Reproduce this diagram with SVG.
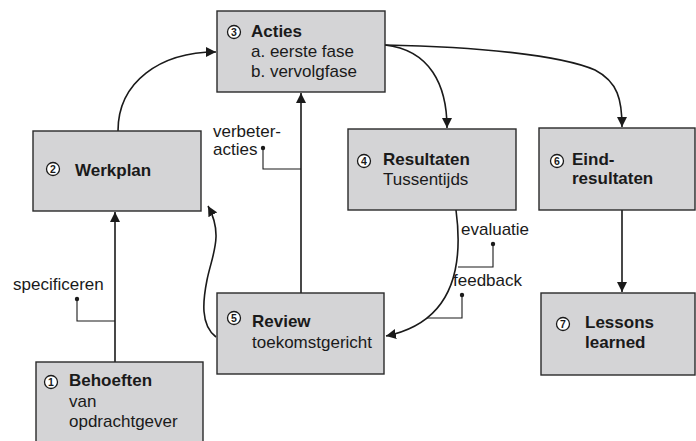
<svg xmlns="http://www.w3.org/2000/svg" width="696" height="441" viewBox="0 0 696 441">
<defs>
<marker id="ah" viewBox="0 0 10 10" refX="10" refY="5" markerWidth="10" markerHeight="10" markerUnits="userSpaceOnUse" orient="auto">
<path d="M0,0 L10,5 L0,10 Z" fill="#1a1a1a"/>
</marker>
<style>
.box{fill:#d4d4d6;stroke:#2a2a2a;stroke-width:1.4}
.t{font-family:"Liberation Sans",Arial,sans-serif;font-size:17px;fill:#1a1a1a}
.b{font-weight:bold}
.num{fill:#fff;stroke:#1a1a1a;stroke-width:1.3}
.nt{font-family:"Liberation Sans",Arial,sans-serif;font-size:10.5px;font-weight:bold;fill:#1a1a1a;text-anchor:middle}
.c{fill:none;stroke:#1a1a1a;stroke-width:1.6}
.a{marker-end:url(#ah)}
.l{fill:none;stroke:#1a1a1a;stroke-width:1.1}
.dot{fill:#1a1a1a}
</style>
</defs>
<rect width="696" height="441" fill="#fff"/>

<g id="connectors">
<path class="c a" d="M118,131 C118,82 160,52 216,52"/>
<path class="c a" d="M385,45 C430,50 447,85 447,128"/>
<path class="c a" d="M385,45 C480,47 560,55 595,70 C618,82 622,100 622,127"/>
<path class="c a" d="M622,210 L622,292"/>
<path class="c a" d="M115,362 L115,212"/>
<path class="c a" d="M301,293 L301,93"/>
<path class="c a" d="M216,337 C200,325 203,300 207,280 C212,255 224,235 208,206"/>
<path class="c a" d="M456,210 C466,285 440,325 386,336"/>
<polyline class="l" points="77,299 77,321 115,321"/>
<circle class="dot" cx="77" cy="299" r="2.2"/>
<polyline class="l" points="263,148 263,169 301,169"/>
<circle class="dot" cx="263" cy="148" r="2.2"/>
<polyline class="l" points="493,244 493,267 458,267"/>
<circle class="dot" cx="493" cy="244" r="2.2"/>
<polyline class="l" points="462,295 462,318 427,318"/>
<circle class="dot" cx="462" cy="295" r="2.2"/>
<text class="t" x="213" y="137">verbeter-</text>
<text class="t" x="213" y="155">acties</text>
<text class="t" x="13" y="290">specificeren</text>
<text class="t" x="461" y="235">evaluatie</text>
<text class="t" x="453" y="286">feedback</text>
</g>

<g id="acties">
<rect class="box" x="217" y="11" width="168" height="81"/>
<circle class="num" cx="234" cy="32" r="6.5"/><text class="nt" x="234" y="35.8">3</text>
<text class="t b" x="251" y="37">Acties</text>
<text class="t" x="251" y="57">a. eerste fase</text>
<text class="t" x="251" y="77">b. vervolgfase</text>
</g>

<g id="werkplan">
<rect class="box" x="33" y="131" width="168" height="80"/>
<circle class="num" cx="53" cy="169" r="6.5"/><text class="nt" x="53" y="172.8">2</text>
<text class="t b" x="75" y="176">Werkplan</text>
</g>

<g id="resultaten">
<rect class="box" x="348" y="129" width="168" height="81"/>
<circle class="num" cx="364" cy="161" r="6.5"/><text class="nt" x="364" y="164.8">4</text>
<text class="t b" x="383" y="165">Resultaten</text>
<text class="t" x="383" y="185">Tussentijds</text>
</g>

<g id="eindresultaten">
<rect class="box" x="539" y="128" width="156" height="82"/>
<circle class="num" cx="557" cy="161" r="6.5"/><text class="nt" x="557" y="164.8">6</text>
<text class="t b" x="572" y="165">Eind-</text>
<text class="t b" x="572" y="184">resultaten</text>
</g>

<g id="lessons">
<rect class="box" x="541" y="293" width="154" height="82"/>
<circle class="num" cx="563" cy="324" r="6.5"/><text class="nt" x="563" y="327.8">7</text>
<text class="t b" x="585" y="328">Lessons</text>
<text class="t b" x="585" y="348">learned</text>
</g>

<g id="review">
<rect class="box" x="217" y="293" width="167" height="81"/>
<circle class="num" cx="234" cy="318" r="6.5"/><text class="nt" x="234" y="321.8">5</text>
<text class="t b" x="252" y="327">Review</text>
<text class="t" x="252" y="348">toekomstgericht</text>
</g>

<g id="behoeften">
<rect class="box" x="36" y="362" width="167" height="85"/>
<circle class="num" cx="51" cy="382" r="6.5"/><text class="nt" x="51" y="385.8">1</text>
<text class="t b" x="69" y="386">Behoeften</text>
<text class="t" x="69" y="407">van</text>
<text class="t" x="69" y="427">opdrachtgever</text>
</g>
</svg>
